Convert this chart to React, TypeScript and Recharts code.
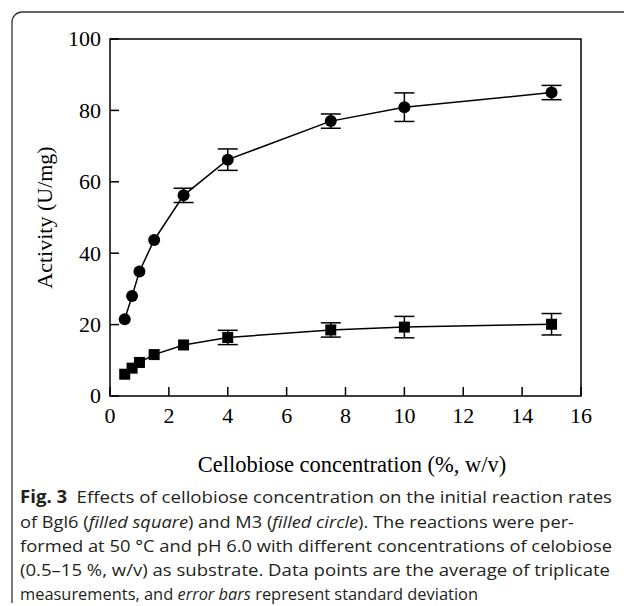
import React from "react";
import { ComposedChart, Line, XAxis, YAxis, ErrorBar, ReferenceArea } from "recharts";

const concentrations = [0.5, 0.75, 1, 1.5, 2.5, 4, 7.5, 10, 15];
const m3Activity = [21.5, 28.0, 34.9, 43.7, 56.2, 66.2, 77.0, 80.9, 85.0];
const m3Error = [0, 0, 0, 0, 2, 3, 2, 4, 2];
const bgl6Activity = [6.1, 7.8, 9.4, 11.6, 14.3, 16.4, 18.5, 19.3, 20.1];
const bgl6Error = [0, 0, 0, 0, 0, 2, 2, 3, 3];
const xTicks = [0, 2, 4, 6, 8, 10, 12, 14, 16];
const yTicks = [0, 20, 40, 60, 80, 100];

const rows = concentrations.map((x, i) => ({
  x,
  m3: m3Activity[i],
  m3Err: m3Error[i],
  bgl6: bgl6Activity[i],
  bgl6Err: bgl6Error[i],
}));

const serif = "'Liberation Serif', 'Times New Roman', serif";
const sans = "'Open Sans', 'Noto Sans', sans-serif";

const XTick = ({ x, y, payload }: any) => (
  <g>
    <line x1={x} y1={y} x2={x} y2={y - 9} stroke="#000" strokeWidth={1.5} />
    <text x={x} y={y + 27} textAnchor="middle" fontSize={22} fontFamily={serif} fill="#000">
      {payload.value}
    </text>
  </g>
);

const YTick = ({ x, y, payload }: any) => (
  <g>
    <line x1={x} y1={y} x2={x + 9} y2={y} stroke="#000" strokeWidth={1.5} />
    <text x={x - 9} y={y} dy="0.34em" textAnchor="end" fontSize={22} fontFamily={serif} fill="#000">
      {payload.value}
    </text>
  </g>
);

const circleDot = (p: any) => <circle key={`c-${p.index}`} cx={p.cx} cy={p.cy} r={6} fill="#000" />;
const squareDot = (p: any) => (
  <rect key={`s-${p.index}`} x={p.cx - 5.5} y={p.cy - 5.5} width={11} height={11} fill="#000" />
);

export default function App() {
  return (
    <div style={{ position: "absolute", left: 0, top: 0, width: 624, height: 606, background: "#fff" }}>
      <ComposedChart
        width={624}
        height={440}
        data={rows}
        margin={{ top: 39, right: 43, left: 50, bottom: 4 }}
      >
        <XAxis
          type="number"
          dataKey="x"
          domain={[0, 16]}
          ticks={xTicks}
          height={40}
          axisLine={false}
          tickLine={false}
          tickSize={0}
          tickMargin={0}
          tick={<XTick />}
          interval={0}
        />
        <YAxis
          type="number"
          domain={[0, 100]}
          ticks={yTicks}
          width={60}
          axisLine={false}
          tickLine={false}
          tickSize={0}
          tickMargin={0}
          tick={<YTick />}
          interval={0}
        />
        <ReferenceArea
          x1={0}
          x2={16}
          y1={0}
          y2={100}
          fill="none"
          fillOpacity={0}
          stroke="#000"
          strokeWidth={1.5}
          ifOverflow="visible"
        />
        <Line
          dataKey="m3"
          stroke="#000"
          strokeWidth={1.5}
          dot={circleDot}
          activeDot={false}
          isAnimationActive={false}
        >
          <ErrorBar dataKey="m3Err" direction="y" width={10} stroke="#000" strokeWidth={1.5} />
        </Line>
        <Line
          dataKey="bgl6"
          stroke="#000"
          strokeWidth={1.5}
          dot={squareDot}
          activeDot={false}
          isAnimationActive={false}
        >
          <ErrorBar dataKey="bgl6Err" direction="y" width={10} stroke="#000" strokeWidth={1.5} />
        </Line>
      </ComposedChart>
      <svg
        width={624}
        height={606}
        style={{ position: "absolute", left: 0, top: 0, pointerEvents: "none" }}
      >
        <path d="M12,603 V22 A10,10 0 0 1 22,12 H640" fill="none" stroke="#333" strokeWidth={1.3} />
        <text
          x={0}
          y={0}
          transform="translate(52,217.5) rotate(-90)"
          textAnchor="middle"
          fontSize={22}
          fontFamily={serif}
          fill="#000"
        >
          Activity (U/mg)
        </text>
        <text x={352} y={472} textAnchor="middle" fontSize={22.5} fontFamily={serif} fill="#000">
          Cellobiose concentration (%, w/v)
        </text>
        <g fontFamily={sans} fontSize={17} fill="#231f20">
          <text x={20} y={503} textLength={592} lengthAdjust="spacingAndGlyphs">
            <tspan fontWeight="bold">Fig. 3</tspan>
            <tspan>{"\u2002Effects of cellobiose concentration on the initial reaction rates"}</tspan>
          </text>
          <text x={20} y={528} textLength={554} lengthAdjust="spacingAndGlyphs">
            of Bgl6 (<tspan fontStyle="italic">filled square</tspan>) and M3 (
            <tspan fontStyle="italic">filled circle</tspan>). The reactions were per-
          </text>
          <text x={20} y={552} textLength={592} lengthAdjust="spacingAndGlyphs">
            formed at 50 °C and pH 6.0 with different concentrations of celobiose
          </text>
          <text x={20} y={576} textLength={590} lengthAdjust="spacingAndGlyphs">
            (0.5–15 %, w/v) as substrate. Data points are the average of triplicate
          </text>
          <text x={20} y={600} textLength={458} lengthAdjust="spacingAndGlyphs">
            measurements, and <tspan fontStyle="italic">error bars</tspan> represent standard deviation
          </text>
        </g>
      </svg>
    </div>
  );
}
